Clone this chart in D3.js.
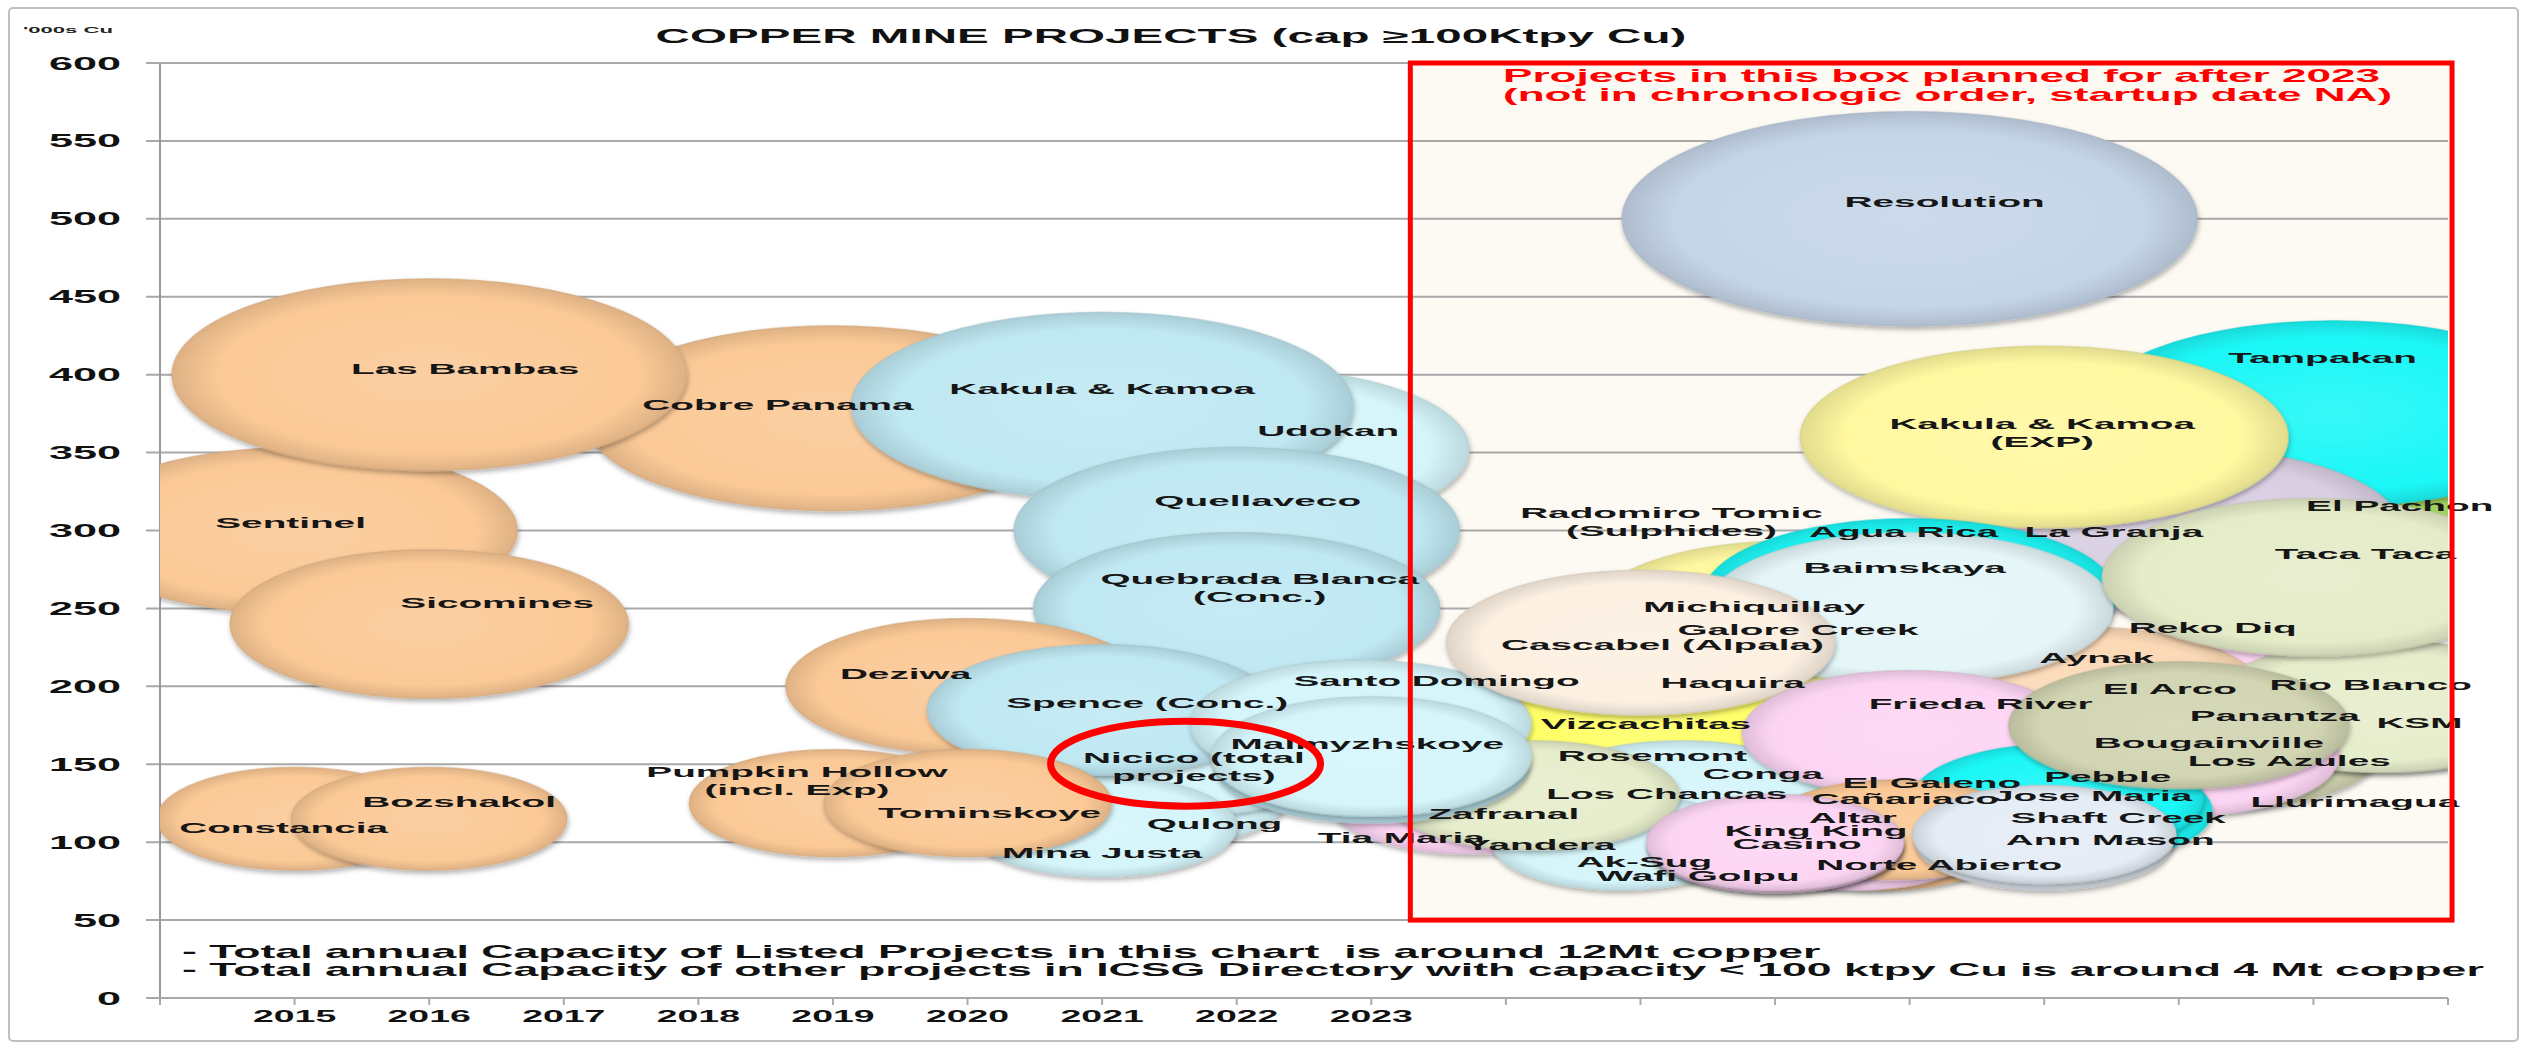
<!DOCTYPE html>
<html><head><meta charset="utf-8">
<script src="https://cdn.jsdelivr.net/npm/d3@7"></script>
<style>
body{margin:0;background:#fff;}
svg{display:block;}
text{font-family:"Liberation Sans",Arial,sans-serif;font-weight:bold;white-space:pre;}
</style></head>
<body><svg id="chart" width="2525" height="1043"></svg>
<script>
// ---------------- DATA ----------------
const title = "COPPER MINE PROJECTS (cap \u2265100Ktpy Cu)";
const unitLabel = "'000s Cu";
const yTicks = [0,50,100,150,200,250,300,350,400,450,500,550,600];
const xTickYears = [2015,2016,2017,2018,2019,2020,2021,2022,2023];
const xTickLabels = ["2015","2016","2017","2018","2019","2020","2021","2022","2023"];
const boxText = ["Projects in this box planned for after 2023","(not in chronologic order, startup date NA)"];
const footnotes = ["- Total annual Capacity of Listed Projects in this chart  is around 12Mt copper",
                   "- Total annual Capacity of other projects in ICSG Directory with capacity < 100 ktpy Cu is around 4 Mt copper"];
const boxYears = [2023.29, 2031.03];
const boxRange = [50, 600];

// projects in drawing order (bottom first)
const names = ["Cobre Panama","Sentinel","Las Bambas","Sicomines","Constancia","Bozshakol","Udokan","Kakula & Kamoa","Quellaveco","Quebrada Blanca\n(Conc.)","Deziwa","Qulong","Nicico (total\nprojects)","Mina Justa","Spence (Conc.)","Pumpkin Hollow\n(incl. Exp)","Tominskoye",
"Resolution","Michiquillay","Galore Creek","Haquira","El Pachon","Tampakan","La Granja","Kakula & Kamoa\n(EXP)","Reko Diq","Aynak","Radomiro Tomic\n(Sulphides)","Agua Rica","Baimskaya","Rosemont","Vizcachitas","Santo Domingo","Cascabel (Alpala)","Panantza","Bougainville","Los Azules","KSM","Rio Blanco","Taca Taca","Conga","Los Chancas","Frieda River","Llurimagua","Jose Maria","Pebble","El Arco","Cañariaco","El Galeno","Altar","Norte Abierto","Shaft Creek","Ann Mason","Yandera","Ak-Sug","Zafranal","King King","Casino","Wafi Golpu","Tia Maria","Malmyzhskoye"];
const startYear = [2019,2015,2016,2016,2015,2016,2022.1,2021,2022,2022,2020,2021.3,2021.6,2021,2021,2019,2020,
2027,2025.8,2026.2,2025.7,2030.5,2030.15,2029,2028,2029.4,2028.3,2026.1,2027,2027,2025.2,2025.1,2022.92,2025,2029.2,2029,2029.3,2030.55,2030.5,2030,2025.5,2025.3,2027,2029,2028.2,2028.1,2029,2026.9,2026.8,2026.6,2026.9,2028,2028,2023.75,2024.85,2024.2,2026,2026,2026,2023,2023];
const capacity = [372,300,400,240,115,115,352,380,300,250,200,130,155,110,185,125,125,
500,225,215,200,290,375,300,360,190,195,245,258,250,150,170,176,228,170,165,160,187,187,270,120,130,170,155,120,128,175,105,100,100,108,100,105,127,100,130,98,98,100,150,155];
const bubbleSize = [372,300,400,240,115,115,290,380,300,250,200,130,155,110,185,125,125,
500,225,215,200,290,375,300,360,190,195,245,258,250,150,170,176,228,170,165,160,187,187,270,120,130,170,155,120,128,175,105,100,100,108,100,105,127,100,130,98,98,100,150,155];
const group = ["orange","orange","orange","orange","orange","orange","cyanlight","blue","blue","blue","orange","cyanlight","cyanlight","cyanlight","blue","orange","orange",
"steel","cream","verylightcyan","cream","green","cyan","lavender","yellowlight","pink","peach","yellowlight","cyan","verylightcyan","greenlight","yellow","cyanlight","cream","olive","olive","olive","palegreen","palegreen","paleolive","cyanlight","cyanlight","pink","pink","cyan","cyan","olive","orange","orange","pink","orange","paleblue","paleblue","pink","cyanlight","palegreen","pink","pink","pink","blue","cyanlight"];

// ---------------- LAYOUT / STYLE ----------------
const labelDx = [-55,-4,36,68,-11,30,78,0,21,23,-62,72,11,0,45,-36,22,
35,6,-4,-2,19,-11,-65,-2,-20,12,-117,-6,-5,-15,-8,76,22,69,30,70,32,-10,52,55,-14,71,176,21,50,-9,9,49,-3,43,74,66,68,24,-29,41,22,-77,30,-4];
const labelDy = [-14,-8,-6,-22,9,-17,-19,-17,-30,-21,-13,28,10,26,-7,-23,9,
-17,-41,-33,-4,-41,-56,1,-5,-74,-37,-95,-64,-41,-9,-10,-43,2,-18,2,12,16,-22,-24,-38,-2,-30,45,-16,-22,-37,-36,-60,-25,35,-25,5,44,19,18,-15,-2,33,73,-13];
const palette = {orange:"#FBC996",blue:"#BFE8F3",cyanlight:"#D4F5FA",steel:"#C5D5E8",cyan:"#1CF7F7",yellowlight:"#FFF8A0",
 lavender:"#D9CFE3",green:"#9ED05A",paleolive:"#E5ECC8",olive:"#D2D5B2",pink:"#FDD5F4",peach:"#FCD9B6",cream:"#FCF0E2",
 verylightcyan:"#E5F6F8",yellow:"#FFFF66",palegreen:"#E6EDCB",greenlight:"#C3D69B",paleblue:"#E4ECF5"};
const plot = {l:160, r:2448, t:63, b:998};
const ASPECT = 2.68;     // horizontal stretch of bubbles
const TS = 2.5;          // horizontal stretch of text

const svg = d3.select("#chart");
const x = d3.scaleLinear().domain([2014, 2031]).range([plot.l, plot.r]);
const y = d3.scaleLinear().domain([0, 600]).range([plot.b, plot.t]);
const r = d3.scaleSqrt().domain([0, 400]).range([0, 96]);

const defs = svg.append("defs");
defs.append("clipPath").attr("id","plotclip").append("rect")
  .attr("x",plot.l).attr("y",plot.t).attr("width",plot.r-plot.l).attr("height",plot.b-plot.t);
const f = defs.append("filter").attr("id","shadow").attr("x","-10%").attr("y","-10%").attr("width","120%").attr("height","130%");
f.append("feDropShadow").attr("dx",1).attr("dy",3).attr("stdDeviation",2.5).attr("flood-color","#000").attr("flood-opacity",0.3);
Object.entries(palette).forEach(([k,c])=>{
  const g = defs.append("radialGradient").attr("id","g-"+k).attr("cx","50%").attr("cy","50%").attr("r","50%");
  g.append("stop").attr("offset","0%").attr("stop-color", d3.interpolateRgb(c,"#fff")(0.12));
  g.append("stop").attr("offset","82%").attr("stop-color", c);
  g.append("stop").attr("offset","100%").attr("stop-color", d3.color(c).darker(0.35).formatHex());
});

function stext(parent, str, px, py, size, S, anchor, fill){
  return parent.append("text").attr("transform",`translate(${px},${py}) scale(${S},1)`)
    .attr("text-anchor",anchor||"middle").attr("font-size",size).attr("fill",fill||"#111").text(str);
}

// outer frame
svg.append("rect").attr("x",9).attr("y",8).attr("width",2509).attr("height",1033).attr("rx",4)
  .attr("fill","#fff").attr("stroke","#C0C0C0").attr("stroke-width",2);

// title & unit
stext(svg, title, 1171, 43, 19.5, 2.44, "middle", "#111");
stext(svg, unitLabel, 23, 33, 8.5, 2.6, "start", "#222");

// box fill
svg.append("rect").attr("x",x(boxYears[0])).attr("y",y(boxRange[1]))
  .attr("width",x(boxYears[1])-x(boxYears[0])).attr("height",y(boxRange[0])-y(boxRange[1]))
  .attr("fill","#FDFAF4");

// gridlines
svg.append("g").selectAll("line").data(yTicks.filter(d=>d>0)).join("line")
  .attr("x1",plot.l-14).attr("x2",plot.r).attr("y1",d=>y(d)).attr("y2",d=>y(d))
  .attr("stroke","#A9A9A9").attr("stroke-width",2);
// y axis & x axis
svg.append("line").attr("x1",plot.l).attr("x2",plot.l).attr("y1",plot.t).attr("y2",plot.b+7).attr("stroke","#9A9A9A").attr("stroke-width",2);
svg.append("line").attr("x1",plot.l-14).attr("x2",plot.r).attr("y1",plot.b).attr("y2",plot.b).attr("stroke","#A9A9A9").attr("stroke-width",2);
svg.append("g").selectAll("line").data(d3.range(2014,2032)).join("line")
  .attr("x1",d=>x(d)).attr("x2",d=>x(d)).attr("y1",plot.b).attr("y2",plot.b+7).attr("stroke","#A9A9A9").attr("stroke-width",2);
// y tick labels
const yl = svg.append("g");
yTicks.forEach(t=>{ stext(yl, String(t), 121, y(t)+6.5, 17.7, 2.44, "end", "#111"); });
// x tick labels
const xl = svg.append("g");
xTickYears.forEach((t,i)=>{ stext(xl, xTickLabels[i], x(t), 1022, 15.8, 2.37, "middle", "#111"); });

// bubbles
const data = names.map((n,i)=>({name:n, yr:startYear[i], cap:capacity[i], size:bubbleSize[i], grp:group[i], dx:labelDx[i], dy:labelDy[i]}));
const bg = svg.append("g").attr("clip-path","url(#plotclip)");
bg.selectAll("ellipse").data(data).join("ellipse")
  .attr("cx",d=>x(d.yr)).attr("cy",d=>y(d.cap))
  .attr("rx",d=>r(d.size)*ASPECT).attr("ry",d=>r(d.size))
  .attr("fill",d=>`url(#g-${d.grp})`)
  .attr("stroke",d=>d3.color(palette[d.grp]).darker(0.5).formatHex()).attr("stroke-opacity",0.55).attr("stroke-width",1.5)
  .attr("filter","url(#shadow)");

// labels
const lg = svg.append("g");
data.forEach(d=>{
  const lines = d.name.split("\n");
  const cx = x(d.yr)+d.dx, cy = y(d.cap)+d.dy;
  lines.forEach((ln,k)=>{
    const oy = (k-(lines.length-1)/2)*18;
    stext(lg, ln, cx, cy+oy+5.5, 15.5, TS, "middle", "#161616");
  });
});

// red box border + text
svg.append("rect").attr("x",x(boxYears[0])).attr("y",y(boxRange[1]))
  .attr("width",x(boxYears[1])-x(boxYears[0])).attr("height",y(boxRange[0])-y(boxRange[1]))
  .attr("fill","none").attr("stroke","#FF0000").attr("stroke-width",5);
stext(svg, boxText[0], 1503, 82, 18, 2.45, "start", "#FF0000");
stext(svg, boxText[1], 1503, 101, 18, 2.45, "start", "#FF0000");

// highlight ring around Nicico label
svg.append("ellipse").attr("cx",x(2021.62)).attr("cy",y(150.4)).attr("rx",135).attr("ry",42.5)
  .attr("fill","none").attr("stroke","#FF0000").attr("stroke-width",7);

// footnotes
stext(svg, footnotes[0], 182, 958, 18.6, 2.4, "start", "#111");
stext(svg, footnotes[1], 182, 976, 18.6, 2.4, "start", "#111");
</script></body></html>
